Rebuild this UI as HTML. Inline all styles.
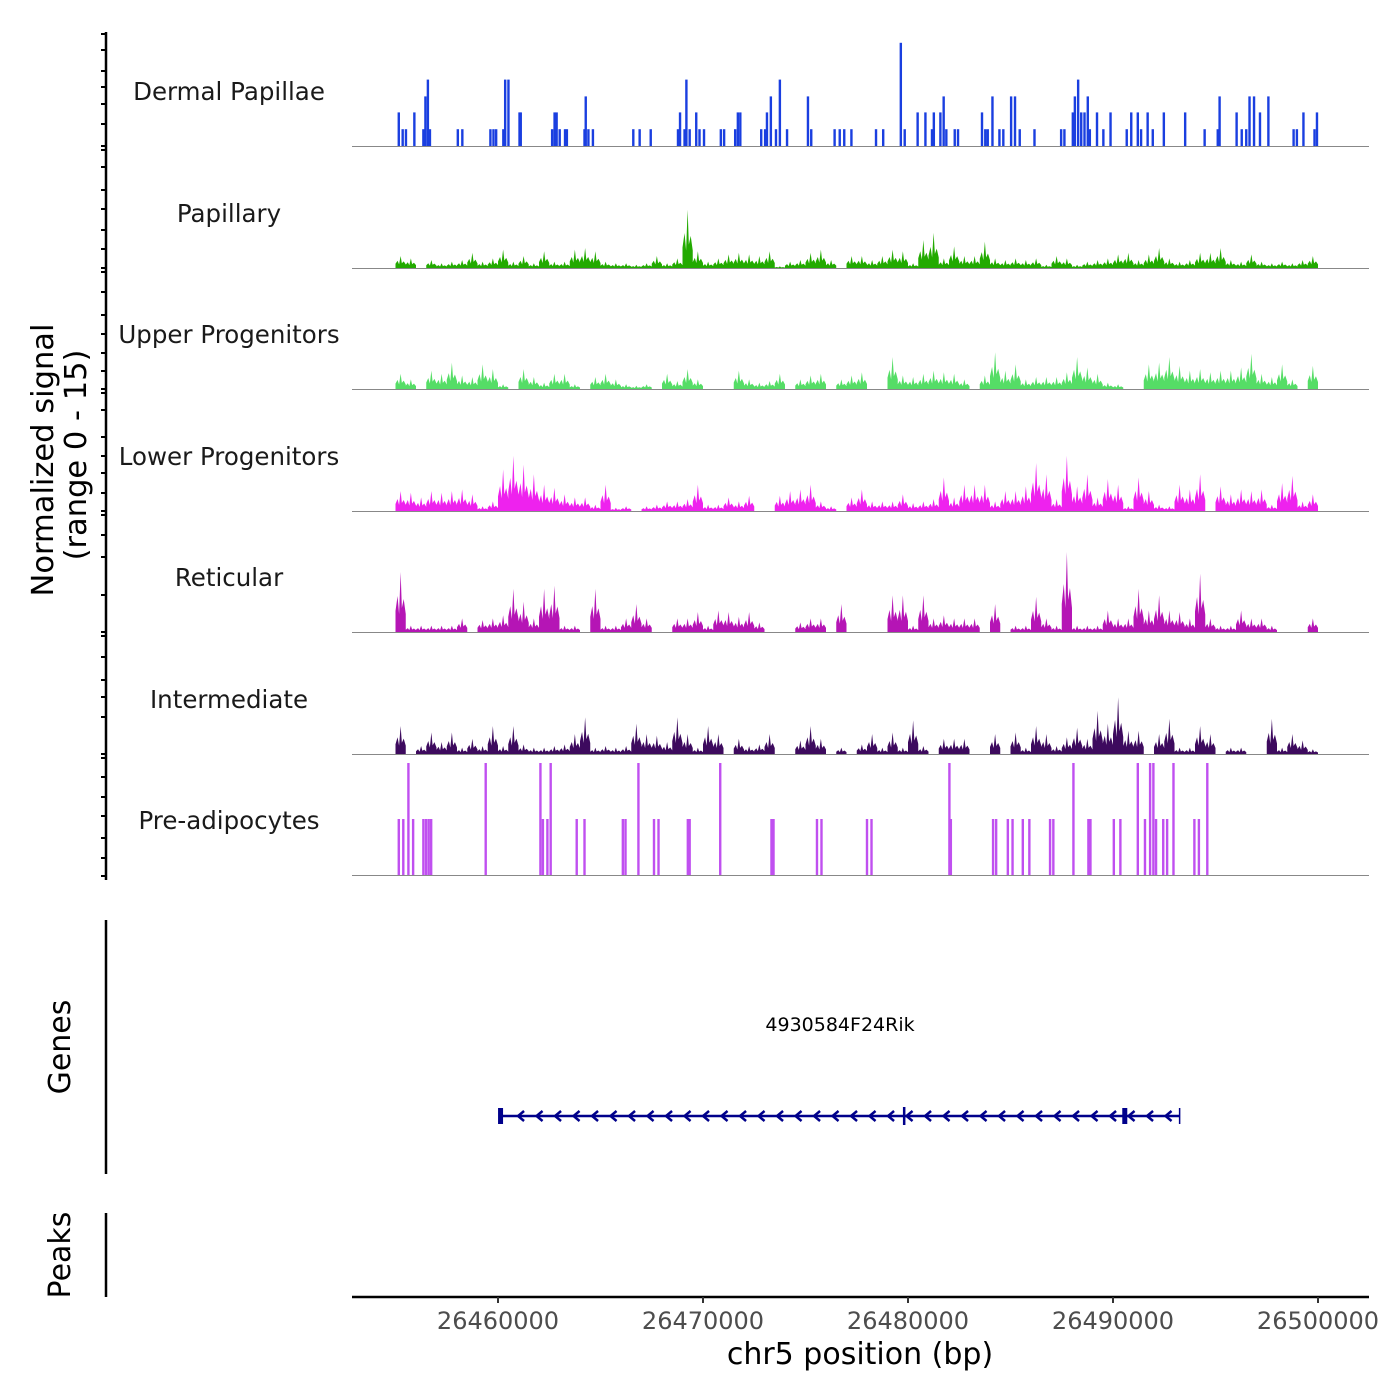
<!DOCTYPE html>
<html><head><meta charset="utf-8"><style>
body{margin:0;background:#fff}
svg{display:block;font-family:"DejaVu Sans","Liberation Sans",sans-serif}
</style></head><body>
<svg id="chart" width="1400" height="1400" viewBox="0 0 1400 1400" xmlns="http://www.w3.org/2000/svg">
<g id="tracks"></g>
<g id="axes"></g>
</svg>
<script>
// ---- data (positions in kb offset from 26450000; signal 0-15) ----
const trackNames = ["Dermal Papillae","Papillary","Upper Progenitors","Lower Progenitors","Reticular","Intermediate","Pre-adipocytes"];
const trackColors = ["#1a3fe0","#22aa00","#55dd66","#ee22ee","#b515b5","#3d0a5e","#c050f0"];
const xTicks = [26460000,26470000,26480000,26490000,26500000];
const binStartKb = 5.0;
const binSizeKb = 0.5;
const dermalPos = [5.16,5.35,5.51,5.92,6.36,6.46,6.58,6.68,8.04,8.26,9.63,9.78,9.91,10.26,10.35,10.51,11.05,11.11,12.64,12.76,12.86,13.01,13.27,13.36,14.22,14.28,14.41,14.63,16.60,16.91,17.45,18.78,18.88,19.10,19.19,19.35,19.67,19.83,20.05,20.87,21.03,21.57,21.70,21.82,22.84,23.03,23.12,23.31,23.56,23.75,24.10,25.12,25.28,26.42,26.67,26.89,27.24,28.44,28.79,29.65,29.84,30.47,30.85,31.17,31.26,31.58,31.74,31.87,32.28,32.44,33.61,33.77,33.89,34.12,34.46,34.65,35.03,35.22,35.45,36.17,37.47,37.63,38.04,38.14,38.30,38.45,38.61,38.77,38.87,39.22,39.53,39.88,40.67,40.89,41.21,41.37,41.69,41.94,42.48,43.52,44.47,45.11,45.20,46.03,46.28,46.50,46.66,46.88,47.17,47.58,48.81,48.97,49.29,49.83,49.95];
const dermalVal = [4.2,2.1,2.1,4.2,2.1,6.2,8.3,2.1,2.1,2.1,2.1,2.1,2.1,2.1,8.3,8.3,4.2,4.2,2.1,4.2,4.2,2.1,2.1,2.1,2.1,6.2,2.1,2.1,2.1,2.1,2.1,2.1,4.2,2.1,8.3,2.1,4.2,2.1,2.1,2.1,2.1,2.1,4.2,4.2,2.1,2.1,4.2,6.2,2.1,8.3,2.1,6.2,2.1,2.1,2.1,2.1,2.1,2.1,2.1,12.9,2.1,4.2,4.2,2.1,4.2,4.2,6.2,2.1,2.1,2.1,4.2,2.1,2.1,6.2,2.1,2.1,6.2,6.2,2.1,2.1,2.1,2.1,4.2,6.2,8.3,4.2,4.2,6.2,2.1,4.2,2.1,4.2,2.1,4.2,4.2,2.1,4.2,2.1,4.2,4.2,2.1,2.1,6.2,4.2,2.1,2.1,6.2,6.2,4.2,6.2,2.1,2.1,4.2,2.1,4.2];
const papillaryVal = [1.5,1.2,0,1.0,0.6,0.8,1.0,1.9,0.8,1.2,2.3,0.8,1.5,0.6,2.1,0.8,0.8,2.3,2.5,2.1,0.8,0.6,0.6,0.4,0.6,1.5,0.6,1.2,7.3,2.1,0.8,1.2,1.7,1.9,1.7,1.5,2.1,0.2,0.8,1.0,1.9,2.3,1.0,0,1.5,1.5,1.0,1.5,2.3,2.1,0.6,3.5,4.4,1.2,2.7,1.5,1.5,3.3,1.2,1.0,1.2,1.0,1.2,0.4,1.5,1.2,0.4,0.8,1.0,1.2,1.7,1.9,1.0,1.7,2.5,1.2,0.8,1.0,1.9,1.9,2.5,1.0,0.8,1.7,0.8,0.6,0.8,0.6,1.0,1.5];
const upperVal = [1.9,1.2,0,2.3,1.9,3.3,1.7,1.5,3.1,2.5,0.6,0,2.5,1.5,0.8,1.9,1.9,0.6,0,1.5,1.9,1.2,0.6,0.4,0.6,0,1.9,1.0,2.5,1.2,0,0,0,2.3,1.2,0.8,1.0,1.9,0,1.2,1.7,1.9,0,1.2,1.7,2.1,0,0,4.0,1.7,1.5,1.9,2.3,2.1,1.9,1.2,0,1.7,4.6,2.3,3.1,1.2,1.5,1.5,1.5,2.1,4.0,2.7,1.9,0.8,0.6,0,0,3.1,3.3,4.0,2.9,2.3,2.5,2.1,2.3,2.3,2.7,4.4,1.9,1.5,3.1,1.2,0,2.9];
const lowerVal = [2.5,2.3,1.7,2.5,2.3,2.5,2.7,2.1,0.6,1.2,5.2,6.9,5.8,4.6,3.3,2.9,2.1,1.7,1.7,0.8,3.3,0.4,0.6,0,0.6,0.8,1.2,1.2,1.5,3.3,0.8,0.8,1.7,1.2,1.9,0,0,1.9,2.5,2.7,3.3,1.2,0.6,0,1.7,2.7,1.2,1.2,1.2,2.1,1.0,1.2,1.5,4.2,1.7,3.3,3.3,3.3,1.2,2.5,2.5,3.1,6.0,4.6,1.5,6.9,3.1,4.6,1.7,4.0,3.3,0.6,4.2,2.5,0.8,0.6,3.3,2.7,4.6,0,3.1,2.1,2.7,2.5,2.7,0.8,3.5,4.4,1.2,2.1];
const reticularVal = [7.5,0.8,0.8,0.8,0.8,0.8,1.7,0,1.5,1.7,2.1,5.4,3.8,1.7,5.4,5.8,0.8,0.8,0,5.4,0.8,0.8,1.7,3.5,1.7,0,0,1.7,1.7,2.5,0.8,2.7,2.5,1.9,2.5,1.2,0,0,0,1.2,1.7,1.7,0,3.5,0,0,0,0,4.6,4.6,0.8,4.6,1.7,2.1,1.7,1.7,1.7,0,3.5,0,0.8,0.8,4.4,1.7,0.8,10.0,0.8,0.8,0.8,2.7,1.7,1.7,5.4,2.7,4.6,2.7,2.5,1.7,7.3,1.7,0.8,0.8,2.7,1.7,1.7,0.8,0,0,0,1.7];
const intermediateVal = [3.5,0,1.0,2.7,1.5,2.7,0.8,1.9,1.0,3.5,1.0,3.5,1.2,0.8,0.8,1.0,1.2,2.5,4.6,0.8,1.0,0.8,1.0,3.8,2.5,2.3,1.5,4.6,2.5,0.8,3.5,2.5,0,1.9,1.0,1.2,2.5,0,0,1.7,3.5,1.9,0,0.8,0,1.2,2.5,0.8,2.7,0.8,4.2,1.0,0,1.9,1.9,1.9,0,0,2.5,0,2.7,0.8,3.5,2.5,1.0,2.1,3.3,1.9,5.4,3.8,7.1,2.9,2.9,0,2.5,4.4,0.8,0.8,3.5,2.5,0,0.8,0.8,0,0,4.4,0.8,2.5,1.7,0.6];
const preadipPos = [5.16,5.38,5.63,5.86,6.36,6.49,6.62,6.74,9.40,12.07,12.19,12.41,12.57,13.84,14.22,16.09,16.22,16.85,17.61,17.83,19.26,19.35,20.84,23.34,23.44,25.56,25.78,28.00,28.22,32.02,32.09,34.15,34.30,34.87,35.10,35.60,35.92,36.93,37.09,38.07,38.80,38.90,40.04,40.36,41.21,41.56,41.81,41.97,42.10,42.45,42.64,42.95,43.97,44.19,44.60];
const preadipVal = [7,7,14,7,7,7,7,7,14,14,7,7,14,7,7,7,7,14,7,7,7,7,14,7,7,7,7,7,7,14,7,7,7,7,7,7,7,7,7,14,7,7,7,7,14,7,14,14,7,7,7,14,7,7,14];
const geneStartBp = 26460100, geneEndBp = 26493250;
const exonBp = [26460100, 26479850, 26490550];

// ---- scales ----
const X0 = 26460000, PX0 = 498, PXPERBP = 205/10000;
const xs = bp => PX0 + (bp - X0) * PXPERBP;
const xkb = kb => xs(26450000 + kb*1000);
const baselines = [146,268,389,511,632,754,875];
const UNIT = 8.0;
const ys = (i,v) => baselines[i] - v*UNIT;
const NS = "http://www.w3.org/2000/svg";
const tracks = document.getElementById('tracks');
const axes = document.getElementById('axes');
function mk(tag, attrs, parent){const e=document.createElementNS(NS,tag);for(const k in attrs)e.setAttribute(k,attrs[k]);parent.appendChild(e);return e;}

const binned = [null,papillaryVal,upperVal,lowerVal,reticularVal,intermediateVal,null];
trackNames.forEach((name,i)=>{
  const g = mk('g',{},tracks);
  
  
  const lbl = mk('text',{x:229,y:baselines[i]-46,'text-anchor':'middle','font-size':24.5,fill:'#1a1a1a'},g);
  lbl.textContent = name;
  
  
  const col = trackColors[i];
  if (binned[i]) {
    const vals = binned[i];
    let d = '';
    vals.forEach((v,k)=>{
      if (v<=0) return;
      const a = xkb(binStartKb + k*binSizeKb), b = xkb(binStartKb + (k+1)*binSizeKb);
      const w = b-a, y0 = baselines[i];
      d += `M${a},${y0}L${a},${ys(i,v*0.35)}L${a+w*0.2},${ys(i,v*0.6)}L${a+w*0.35},${ys(i,v*0.3)}L${a+w*0.5},${ys(i,v)}L${a+w*0.62},${ys(i,v*0.4)}L${a+w*0.8},${ys(i,v*0.55)}L${b},${ys(i,v*0.3)}L${b},${y0}Z`;
    });
    const p = mk('path',{d:d,fill:col},g);
    
    
  } else {
    const pos = i===0 ? dermalPos : preadipPos;
    const val = i===0 ? dermalVal : preadipVal;
    pos.forEach((kb,k)=>{
      const x = xkb(kb);
      const r = mk('rect',{x:x-1.2,y:ys(i,val[k]),width:2.4,height:val[k]*UNIT,fill:col},g);
      
      
    });
  }
  const bl = mk('line',{x1:352,x2:1369,y1:baselines[i]+0.5,y2:baselines[i]+0.5,stroke:'#888','stroke-width':1},g);
  
  
});

// left axis
const yAxis = mk('line',{x1:106,x2:106,y1:32,y2:880,stroke:'#000','stroke-width':2.5},axes);


const yTickY = [34,50,71,87,104,124,146,150,167,190,209,230,249,268,272,292,315,334,353,371,389,393,410,437,456,473,493,511,515,535,557,595,632,636,657,680,697,717,754,758,777,797,816,838,858,876];
yTickY.forEach(y=>{
  const t = mk('line',{x1:101,x2:106,y1:y,y2:y,stroke:'#000','stroke-width':2},axes);
  
  
});
const yt = mk('text',{transform:'translate(53,460) rotate(-90)','text-anchor':'middle','font-size':30.5,fill:'#000'},axes);
yt.textContent='Normalized signal';


const yt2 = mk('text',{transform:'translate(86,455) rotate(-90)','text-anchor':'middle','font-size':30.5,fill:'#000'},axes);
yt2.textContent='(range 0 - 15)';



// genes panel
const ga = mk('line',{x1:106,x2:106,y1:920,y2:1174,stroke:'#000','stroke-width':2.5},axes);


const gt = mk('text',{transform:'translate(70,1047) rotate(-90)','text-anchor':'middle','font-size':30,fill:'#000'},axes);
gt.textContent='Genes';


const gene = mk('g',{},tracks);


const gs = xs(geneStartBp), ge = xs(geneEndBp);
mk('line',{x1:gs,x2:ge,y1:1116,y2:1116,stroke:'#00008b','stroke-width':2.5},gene);
for (let x = gs+20; x < ge-6; x += 18.5) {
  mk('path',{d:`M${x+4},${1111}L${x-2},${1116}L${x+4},${1121}`,fill:'none',stroke:'#00008b','stroke-width':2.5},gene);
}
mk('line',{x1:ge,x2:ge,y1:1108,y2:1124,stroke:'#00008b','stroke-width':1.5},gene);
exonBp.forEach((bp,k)=>{
  const x = xs(bp);
  mk('rect',{x:x-2,y:k===1?1107:1108,width:k===1?2.5:5,height:k===1?18:16,fill:'#00008b'},gene);
});
const gl = mk('text',{x:840,y:1031,'text-anchor':'middle','font-size':19,fill:'#000'},gene);
gl.textContent='4930584F24Rik';



// peaks panel
const pa = mk('line',{x1:106,x2:106,y1:1213,y2:1297,stroke:'#000','stroke-width':2.5},axes);


const pt = mk('text',{transform:'translate(70,1255) rotate(-90)','text-anchor':'middle','font-size':30,fill:'#000'},axes);
pt.textContent='Peaks';



// x axis
const xa = mk('line',{x1:352,x2:1369,y1:1297,y2:1297,stroke:'#000','stroke-width':2.5},axes);


xTicks.forEach(v=>{
  const x = xs(v);
  const t = mk('line',{x1:x,x2:x,y1:1297,y2:1303,stroke:'#333','stroke-width':2},axes);
  
  
  const l = mk('text',{x:x,y:1329,'text-anchor':'middle','font-size':24,fill:'#4d4d4d'},axes);
  l.textContent = String(v);
  
  
});
const xt = mk('text',{x:860,y:1364,'text-anchor':'middle','font-size':30,fill:'#000'},axes);
xt.textContent='chr5 position (bp)';


</script>
</body></html>
